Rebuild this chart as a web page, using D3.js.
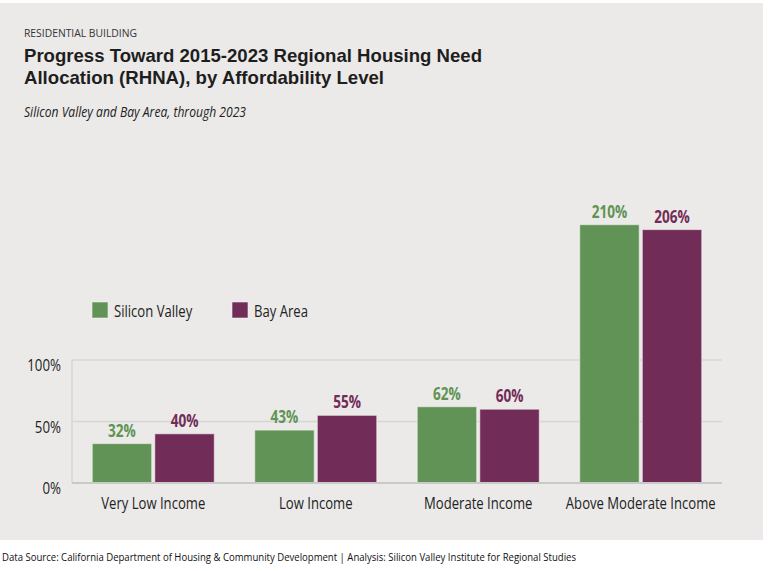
<!DOCTYPE html>
<html><head><meta charset="utf-8">
<script src="https://cdn.jsdelivr.net/npm/d3@7"></script>
<style>
html,body{margin:0;padding:0;background:#fff;}
svg text{font-family:"Open Sans","Noto Sans",sans-serif;}
</style></head>
<body>
<svg id="chart" width="768" height="571"></svg>
<script>
const categories = ["Very Low Income", "Low Income", "Moderate Income", "Above Moderate Income"];
const seriesNames = ["Silicon Valley", "Bay Area"];
const siliconValley = [32, 43, 62, 210];
const bayArea = [40, 55, 60, 206];
const yTicks = [0, 50, 100];
const colors = ["#609355", "#722c58"];

const svg = d3.select("#chart");
svg.append("rect").attr("x", 0).attr("y", 3).attr("width", 763).attr("height", 537).attr("fill", "#ebeae8");

function fit(sel, w) {
  sel.attr("textLength", w).attr("lengthAdjust", "spacingAndGlyphs");
}
function condense(sel, f) {
  sel.each(function () {
    const l = this.getComputedTextLength();
    d3.select(this).attr("textLength", l * f).attr("lengthAdjust", "spacingAndGlyphs");
  });
}

// Titles
svg.append("text").attr("x", 24).attr("y", 37).attr("font-size", 11.5).attr("fill", "#333")
  .text("RESIDENTIAL BUILDING").call(fit, 113);
const title = svg.append("text").attr("font-size", 19).attr("font-weight", 700).attr("fill", "#1e1e1e")
  .style("font-family", "'Liberation Sans', Arial, sans-serif");
title.append("tspan").attr("x", 24).attr("y", 61.5)
  .text("Progress Toward 2015-2023 Regional Housing Need").call(fit, 458);
title.append("tspan").attr("x", 24).attr("y", 83.5)
  .text("Allocation (RHNA), by Affordability Level").call(fit, 360);
svg.append("text").attr("x", 24).attr("y", 117).attr("font-size", 15).attr("font-style", "italic").attr("fill", "#222")
  .text("Silicon Valley and Bay Area, through 2023").call(fit, 222);

// Scales
const x0 = d3.scaleBand().domain(categories).range([72, 722]).paddingInner(0).paddingOuter(0);
const x1 = d3.scaleBand().domain(seriesNames).range([0, 122]).paddingInner(0.05);
const y = d3.scaleLinear().domain([0, 100]).range([483, 360]);

const g = svg.append("g");
// gridlines
g.selectAll(".grid").data(yTicks.filter(d => d > 0)).join("line")
  .attr("x1", 72).attr("x2", 722).attr("y1", d => y(d)).attr("y2", d => y(d))
  .attr("stroke", "#d6d6d4").attr("stroke-width", 1.5);
g.append("line").attr("x1", 72).attr("x2", 72).attr("y1", y(100)).attr("y2", y(0))
  .attr("stroke", "#d6d6d4").attr("stroke-width", 1.5);

// y tick labels
g.selectAll(".ytl").data(yTicks).join("text")
  .attr("x", 61).attr("y", d => y(d) + 11).attr("text-anchor", "end")
  .attr("font-size", 17).attr("fill", "#222").text(d => d + "%").call(condense, 0.78);

// bars
const data = categories.map((c, i) => ({ cat: c, vals: [siliconValley[i], bayArea[i]] }));
const groups = g.selectAll(".grp").data(data).join("g")
  .attr("transform", d => `translate(${x0(d.cat) + (x0.bandwidth() - 122) / 2},0)`);
groups.selectAll("rect").data(d => d.vals.map((v, j) => ({ v, s: seriesNames[j], j }))).join("rect")
  .attr("x", d => x1(d.s)).attr("width", x1.bandwidth())
  .attr("y", d => y(d.v)).attr("height", d => y(0) - y(d.v))
  .attr("fill", d => colors[d.j]).attr("stroke", "#f2f2f0").attr("stroke-opacity", 0.6).attr("stroke-width", 1);
groups.selectAll("text").data(d => d.vals.map((v, j) => ({ v, s: seriesNames[j], j }))).join("text")
  .attr("x", d => x1(d.s) + x1.bandwidth() / 2).attr("y", d => y(d.v) - 7)
  .attr("text-anchor", "middle").attr("font-size", 17).attr("font-weight", 700)
  .attr("fill", d => colors[d.j]).text(d => d.v + "%").call(condense, 0.8);

// baseline
g.append("line").attr("x1", 72).attr("x2", 722).attr("y1", y(0)).attr("y2", y(0))
  .attr("stroke", "#c9c9c7").attr("stroke-width", 2);

// x axis labels
g.selectAll(".xl").data(categories).join("text")
  .attr("x", d => x0(d) + x0.bandwidth() / 2).attr("y", 509).attr("text-anchor", "middle")
  .attr("font-size", 17).attr("fill", "#222").text(d => d).call(condense, 0.77);

// legend
const lg = svg.append("g");
const legX = [92, 232];
seriesNames.forEach((s, i) => {
  lg.append("rect").attr("x", legX[i]).attr("y", 302).attr("width", 16).attr("height", 16)
    .attr("fill", colors[i]).attr("stroke", "#f2f2f0").attr("stroke-opacity", 0.6);
  lg.append("text").attr("x", legX[i] + 22).attr("y", 317).attr("font-size", 17).attr("fill", "#222")
    .text(s).call(condense, 0.77);
});

// footer
svg.append("text").attr("x", 2).attr("y", 561).attr("font-size", 11.5).attr("fill", "#111")
  .text("Data Source: California Department of Housing & Community Development  |  Analysis: Silicon Valley Institute for Regional Studies")
  .call(fit, 574);
</script>
</body></html>
